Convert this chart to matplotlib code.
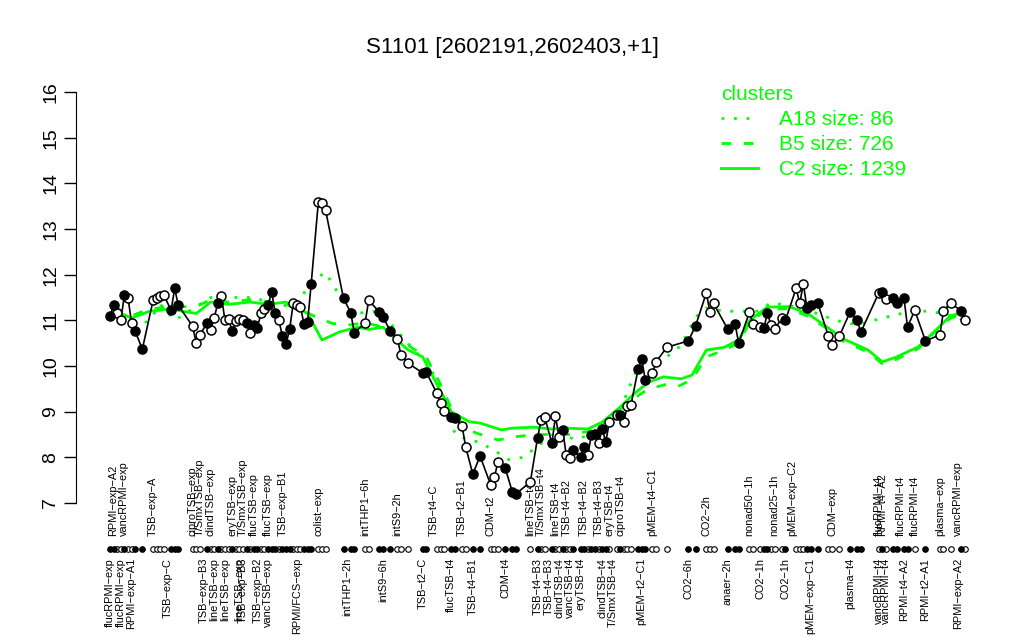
import matplotlib as mpl
import matplotlib.pyplot as plt
from matplotlib.lines import Line2D

mpl.rcParams['font.family'] = ['Liberation Sans', 'DejaVu Sans']

GREEN = '#00ff00'

# condition index, expression value, filled marker (1) or open (0)
pos = [0, 1, 2, 3, 4, 5, 6, 7, 9, 12, 13, 14, 15, 17, 18, 19, 23, 24, 25, 27,
       28, 29, 30, 31, 32, 33, 34, 35, 36, 37, 38, 39, 40, 41, 42, 43, 44, 45, 46, 47,
       48, 49, 50, 51, 52, 53, 54, 55, 56, 58, 59, 60, 65, 67, 68, 71, 72, 75, 76, 78,
       80, 81, 83, 87, 88, 91, 92, 93, 95, 96, 98, 99, 101, 103, 106, 107, 108, 110, 112, 113,
       117, 119, 120, 121, 123, 124, 125, 126, 127, 128, 129, 131, 132, 133, 134, 135, 136, 137, 138, 139,
       141, 142, 143, 144, 145, 147, 148, 149, 151, 152, 155, 161, 163, 166, 167, 168, 172, 174, 175, 178,
       179, 181, 182, 183, 184, 185, 187, 188, 191, 192, 193, 194, 195, 197, 200, 201, 203, 206, 208, 209,
       214, 215, 216, 218, 219, 221, 222, 224, 227, 231, 232, 234, 237, 238]
values = [11.09, 11.33, 11.16, 11.00, 11.55, 11.50, 10.94, 10.76, 10.37, 11.44, 11.50, 11.53, 11.55, 11.22, 11.70, 11.33, 10.87, 10.50, 10.68, 10.94,
          10.79, 11.05, 11.38, 11.53, 11.00, 11.02, 10.77, 10.98, 11.02, 11.00, 10.95, 10.72, 10.90, 10.83, 11.15, 11.25, 11.33, 11.62, 11.15, 11.00,
          10.65, 10.48, 10.80, 11.38, 11.33, 11.30, 10.92, 10.96, 11.80, 13.60, 13.57, 13.41, 11.48, 11.17, 10.73, 10.94, 11.44, 11.18, 11.07, 10.77,
          10.60, 10.24, 10.06, 9.85, 9.87, 9.40, 9.19, 9.01, 8.88, 8.86, 8.69, 8.23, 7.63, 8.03, 7.39, 7.57, 7.90, 7.77, 7.24, 7.20,
          7.46, 8.42, 8.82, 8.88, 8.31, 8.90, 8.44, 8.60, 8.05, 7.98, 8.16, 8.00, 8.23, 8.05, 8.49, 8.51, 8.31, 8.62, 8.34, 8.77,
          8.93, 8.93, 8.77, 9.12, 9.14, 9.93, 10.15, 9.69, 9.84, 10.09, 10.41, 10.55, 10.88, 11.60, 11.18, 11.37, 10.80, 10.92, 10.50, 11.18,
          10.92, 10.85, 10.83, 11.15, 10.90, 10.80, 11.05, 11.00, 11.70, 11.37, 11.80, 11.27, 11.33, 11.38, 10.65, 10.46, 10.65, 11.18, 11.00, 10.74,
          11.60, 11.62, 11.46, 11.50, 11.38, 11.50, 10.85, 11.22, 10.55, 10.68, 11.20, 11.38, 11.20, 11.00]
filled = [1, 1, 0, 0, 1, 0, 0, 1, 1, 0, 0, 0, 0, 1, 1, 1, 0, 0, 0, 1,
          0, 0, 1, 0, 0, 0, 1, 0, 0, 0, 1, 0, 1, 1, 0, 0, 1, 1, 1, 0,
          1, 1, 1, 0, 0, 0, 1, 1, 1, 0, 0, 0, 1, 1, 1, 0, 0, 1, 1, 1,
          0, 0, 0, 1, 1, 0, 0, 0, 1, 1, 0, 0, 1, 1, 0, 0, 0, 1, 1, 1,
          0, 1, 0, 0, 1, 0, 0, 1, 0, 0, 1, 1, 1, 0, 1, 1, 0, 1, 1, 0,
          0, 1, 0, 0, 0, 1, 1, 1, 0, 0, 0, 1, 1, 0, 0, 0, 1, 1, 1, 0,
          0, 0, 1, 1, 0, 0, 0, 1, 0, 0, 0, 1, 1, 1, 0, 0, 0, 1, 1, 1,
          0, 1, 0, 1, 1, 1, 1, 0, 1, 0, 0, 0, 1, 0]

# cluster mean profiles
c2_pos = [1, 6, 11, 17, 20, 24, 28, 33, 39, 44, 49, 55, 59, 64, 69, 72, 76, 79, 83, 87,
          90, 94, 95, 100, 103, 109, 112, 118, 123, 127, 133, 137, 142, 146, 150, 154, 159, 162, 166, 171,
          175, 178, 183, 189, 194, 200, 204, 211, 215, 219, 225, 229, 234, 238]
c2_val = [11.22, 11.05, 11.2, 11.25, 11.2, 11.15, 11.4, 11.35, 11.4, 11.35, 11.4, 11.15, 10.57, 10.75, 10.85, 10.8, 10.85, 10.63, 10.35, 10.2,
          9.75, 9.15, 9.0, 8.78, 8.75, 8.6, 8.64, 8.66, 8.62, 8.64, 8.62, 8.77, 9.1, 9.4, 9.65, 9.76, 9.72, 9.8, 10.35, 10.41,
          10.57, 11.0, 11.29, 11.3, 11.16, 10.83, 10.6, 10.35, 10.09, 10.2, 10.42, 10.72, 11.1, 11.18]
b5_pos = [1, 6, 11, 17, 24, 28, 33, 39, 45, 49, 54, 58, 62, 67, 71, 76, 79, 84, 88, 92,
          96, 100, 102, 108, 113, 118, 123, 129, 135, 141, 146, 150, 155, 158, 162, 166, 171, 175, 178, 183,
          189, 194, 200, 204, 211, 215, 219, 225, 229, 234, 238]
b5_val = [11.3, 11.1, 11.25, 11.3, 11.3, 11.45, 11.4, 11.45, 11.4, 11.35, 11.2, 11.05, 10.93, 10.9, 10.95, 10.85, 10.7, 10.4, 10.2, 9.6,
          8.9, 8.6, 8.53, 8.38, 8.45, 8.5, 8.5, 8.5, 8.6, 9.0, 9.3, 9.5, 9.6, 9.55, 9.7, 10.2, 10.35, 10.5, 10.95, 11.25,
          11.25, 11.1, 10.8, 10.55, 10.3, 10.05, 10.15, 10.38, 10.7, 11.05, 11.15]
a18_pos = [1, 7, 11, 14, 18, 24, 28, 33, 39, 45, 50, 54, 57, 60, 63, 68, 75, 79, 84, 89,
           93, 95, 97, 101, 106, 111, 115, 120, 124, 129, 135, 141, 147, 150, 155, 159, 163, 166, 171, 180,
           184, 189, 195, 202, 208, 215, 223, 227, 232, 238]
a18_val = [11.2, 10.85, 11.0, 11.35, 11.0, 11.3, 11.5, 11.5, 11.5, 11.4, 11.3, 11.6, 11.9, 12.05, 11.66, 11.15, 11.2, 10.85, 10.4, 10.0,
           9.3, 8.66, 8.45, 8.38, 8.2, 7.95, 8.0, 8.3, 8.6, 8.4, 8.5, 8.85, 10.0, 9.8, 10.2, 10.45, 11.07, 11.27, 11.2, 11.2,
           11.38, 11.33, 11.2, 11.0, 10.9, 11.05, 11.2, 11.2, 11.15, 11.0]

# condition labels above and below the marker row
top_labels = [(1, 'RPMI−exp−A2'), (4, 'vancRPMI−exp'), (12, 'TSB−exp−A'), (23, 'ciproTSB−exp'),
              (25, 'T/SmxTSB−exp'), (28, 'clindTSB−exp'), (34, 'eryTSB−exp'), (37, 'T/SmxTSB−exp'),
              (40, 'flucTSB−exp'), (44, 'flucTSB−exp'), (48, 'TSB−exp−B1'), (58, 'colist−exp'),
              (71, 'intTHP1−6h'), (80, 'intS9−2h'), (90, 'TSB−t4−C'), (98, 'TSB−t2−B1'),
              (106, 'CDM−t2'), (117, 'lineTSB−t4'), (120, 'T/SmxTSB−t4'), (124, 'lineTSB−t4'),
              (127, 'TSB−t4−B2'), (132, 'TSB−t4−B2'), (136, 'TSB−t4−B3'), (139, 'eryTSB−t4'),
              (142, 'ciproTSB−t4'), (151, 'pMEM−t4−C1'), (166, 'CO2−2h'), (178, 'nonad50−1h'),
              (185, 'nonad25−1h'), (190, 'pMEM−exp−C2'), (201, 'CDM−exp'), (214, 'flucRPMI−t4'),
              (215, 'RPMI−t4−A2'), (220, 'flucRPMI−t4'), (224, 'flucRPMI−t4'), (231, 'plasma−exp'),
              (236, 'vancRPMI−exp')]
bottom_labels = [(0, 'flucRPMI−exp'), (3, 'flucRPMI−exp'), (6, 'RPMI−exp−A1'), (16, 'TSB−exp−C'),
                 (26, 'TSB−exp−B3'), (29, 'lineTSB−exp'), (32, 'lineTSB−exp'), (36, 'lineTSB−exp'),
                 (37, 'TSB−exp−B3'), (41, 'TSB−exp−B2'), (44, 'vancTSB−exp'), (52, 'RPMI/FCS−exp'),
                 (66, 'intTHP1−2h'), (76, 'intS9−6h'), (87, 'TSB−t2−C'), (95, 'flucTSB−t4'),
                 (101, 'TSB−t4−B1'), (110, 'CDM−t4'), (119, 'TSB−t4−B3'), (122, 'TSB−t4−B3'),
                 (125, 'clindTSB−t4'), (128, 'vancTSB−t4'), (131, 'eryTSB−t4'), (137, 'clindTSB−t4'),
                 (140, 'T/SmxTSB−t4'), (148, 'pMEM−t2−C1'), (161, 'CO2−6h'), (172, 'anaer−2h'),
                 (181, 'CO2−1h'), (188, 'CO2−1h'), (195, 'pMEM−exp−C1'), (206, 'plasma−t4'),
                 (214, 'vancRPMI−t4'), (216, 'vancRPMI−t4'), (221, 'RPMI−t4−A2'), (227, 'RPMI−t2−A1'),
                 (236, 'RPMI−exp−A2')]

fig = plt.figure(figsize=(10.24, 6.4), dpi=100)
ax = fig.add_axes([76 / 1024, 137 / 640, 914 / 1024, 411 / 640])
ax.set_xlim(-9.47, 244.96)
ax.set_ylim(7, 16)

# cluster profiles
ax.plot(a18_pos, a18_val, color=GREEN, lw=2, ls=(0, (1, 3.5)), zorder=2)
ax.plot(b5_pos, b5_val, color=GREEN, lw=2, ls=(0, (3.5, 4.5)), zorder=2)
ax.plot(c2_pos, c2_val, color=GREEN, lw=2, ls='-', zorder=2)

# gene profile
ax.plot(pos, values, color='black', lw=1.2, zorder=3)
open_x = [p for p, f in zip(pos, filled) if not f]
open_y = [v for v, f in zip(values, filled) if not f]
full_x = [p for p, f in zip(pos, filled) if f]
full_y = [v for v, f in zip(values, filled) if f]
ax.plot(open_x, open_y, 'o', ms=6.5, mfc='white', mec='black', mew=1.1, zorder=4)
ax.plot(full_x, full_y, 'o', ms=6.5, mfc='black', mec='black', mew=1.1, zorder=4)

# marker row under the plot
row_y = 5.99
ax.plot(open_x, [row_y] * len(open_x), 'o', ms=4, mfc='white', mec='black', mew=0.8, clip_on=False)
ax.plot(full_x, [row_y] * len(full_x), 'o', ms=4, mfc='black', mec='black', mew=0.8, clip_on=False)

for x, lab in top_labels:
    ax.text(x, 6.28, lab, rotation=90, ha='center', va='bottom', fontsize=7.9, clip_on=False)
for x, lab in bottom_labels:
    ax.text(x, 5.80, lab, rotation=90, ha='center', va='top', fontsize=7.9, clip_on=False)

for side in ['top', 'right', 'bottom']:
    ax.spines[side].set_visible(False)
ax.spines['left'].set_bounds(7, 16)
ax.set_xticks([])
ax.set_yticks(range(7, 17))
ax.tick_params(axis='y', length=9, width=1, labelsize=14, pad=3)
for t in ax.get_yticklabels():
    t.set_rotation(90)
    t.set_va('center')

fig.text(0.5, 1 - 48 / 640, 'S1101 [2602191,2602403,+1]', fontsize=16, ha='center', va='center')

handles = [Line2D([], [], color=GREEN, lw=2, ls=(0, (1, 3.5))),
           Line2D([], [], color=GREEN, lw=2, ls=(0, (3.5, 4.5))),
           Line2D([], [], color=GREEN, lw=2, ls='-')]
leg = ax.legend(handles, ['A18 size: 86', 'B5 size: 726', 'C2 size: 1239'],
                title='clusters', loc='upper left', bbox_to_anchor=(702 / 1024, 1 - 66 / 640),
                bbox_transform=fig.transFigure, frameon=False, fontsize=15,
                title_fontsize=15, labelcolor=GREEN, handlelength=1.8,
                handletextpad=1.0, labelspacing=0.3, alignment='left')
leg.get_title().set_color(GREEN)

fig.savefig('out.png', dpi=100)
